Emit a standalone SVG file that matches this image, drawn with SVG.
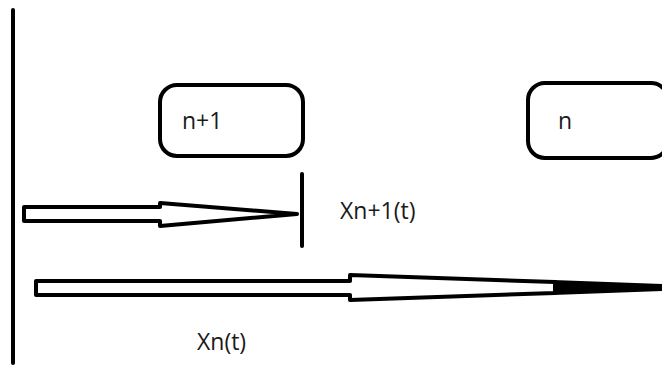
<svg xmlns="http://www.w3.org/2000/svg" width="662" height="367" viewBox="0 0 662 367">
  <style>
    .box { fill: #ffffff; stroke: #000000; stroke-width: 4; }
    .lbl { font-family: "Open Sans", "Liberation Sans", sans-serif; font-size: 23px; fill: #1a1a1a; }
    .arrow { fill: #ffffff; stroke: #000000; stroke-width: 4; stroke-linejoin: round; }
    .rule { stroke: #000000; stroke-width: 4; stroke-linecap: round; fill: none; }
  </style>
  <rect width="662" height="367" fill="#ffffff"/>

  <!-- wall on the left -->
  <line class="rule" x1="13" y1="10" x2="13" y2="363"/>

  <g id="node-n1">
    <rect class="box" x="160" y="85" width="143" height="71" rx="17"/>
    <text class="lbl" x="182" y="129">n+1</text>
  </g>

  <g id="node-n">
    <rect class="box" x="528" y="83" width="140" height="75" rx="17"/>
    <text class="lbl" x="558" y="129">n</text>
  </g>

  <g id="connectors">
    <!-- upper arrow with end stop -->
    <polygon class="arrow" points="24,207 160,207 160,203 297,214 160,226 160,221 24,221"/>
    <line class="rule" x1="302" y1="174" x2="302" y2="246"/>
    <!-- lower arrow, running off the right edge -->
    <polygon class="arrow" points="36,281 350,281 350,275 555,282 555,293 350,300 350,295 36,295"/>
    <polygon points="553,280 662,284 662,291 553,295" fill="#000000"/>
  </g>

  <g id="labels">
    <text class="lbl" x="340" y="219">Xn+1(t)</text>
    <text class="lbl" x="197" y="350">Xn(t)</text>
  </g>
</svg>
